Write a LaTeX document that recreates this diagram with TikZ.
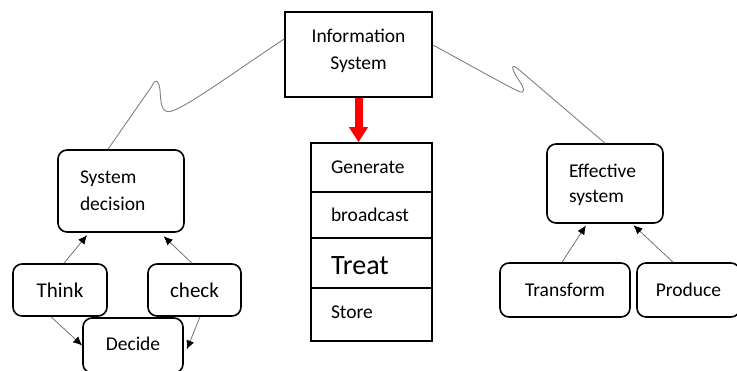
\documentclass[tikz,border=0pt]{standalone}
\usepackage{fontspec}
\setmainfont{Carlito}
\usetikzlibrary{arrows.meta,calc}
\begin{document}
\begin{tikzpicture}[x=1pt,y=-1pt,
  box/.style={draw=black,line width=1.6pt,minimum height=#1,inner sep=0pt,font=\fontsize{19.5}{27}\selectfont},
  rbox/.style={box=#1,rounded corners=9pt},
  cell/.style={draw=black,line width=1.6pt,minimum width=121pt,minimum height=#1,text width=81pt,align=left,inner xsep=20pt,inner ysep=0pt,font=\fontsize{19.5}{27}\selectfont},
  link/.style={draw=gray,line width=0.9pt},
  upar/.style={draw=gray!90!black,line width=0.8pt,-{Latex[length=9pt,width=8pt,color=black]}}]
\useasboundingbox (0,0) rectangle (737,370);
% top
\node[box=85pt,minimum width=147pt] (info) at (358.5,54.5)
  {\raisebox{4pt}[\height][\depth]{\begin{tabular}{@{}c@{}}Information\\System\end{tabular}}};
% stack
\node[cell=49pt] (gen) at (371.5,167.5) {Generate};
\node[cell=46pt] (bro) at (371.5,215) {broadcast};
\node[cell=50pt,font=\fontsize{28}{30}\selectfont] (tre) at (371.5,263) {\raisebox{-3pt}[\height][\depth]{Treat}};
\node[cell=53pt] (sto) at (371.5,314.5) {\raisebox{2pt}[\height][\depth]{Store}};
\draw[red,line width=8pt,-{Triangle[width=18pt,length=15pt]}] (info.south) -- (info.south |- gen.north);
% left group
\node[rbox=82pt,text width=82pt,align=left,inner xsep=22pt] (sd) at (121,191) {System\\decision};
\node[rbox=52pt,minimum width=94pt,font=\fontsize{21}{27}\selectfont] (think) at (60,290) {Think};
\node[rbox=52pt,minimum width=93pt,font=\fontsize{21}{27}\selectfont] (check) at (194.5,290) {check};
\node[rbox=55pt,minimum width=100pt] (decide) at (133,345.5) {\raisebox{2pt}[\height][\depth]{Decide}};
\draw[upar,shorten >=3pt] ([xshift=4pt]think.north) -- ([xshift=-32pt]sd.south);
\draw[upar,shorten >=5pt] ([xshift=-2.5pt]check.north) -- ([xshift=39pt]sd.south);
\draw[upar] ([xshift=-9pt]think.south) -- (decide.west);
\draw[upar] ([xshift=5.5pt]check.south) -- ([xshift=3pt,yshift=-4pt]decide.east);
% right group
\node[rbox=79pt,text width=72pt,align=left,inner xsep=22pt] (es) at (605,183.5) {\raisebox{-2pt}[\height][\depth]{Effective}\\system};
\node[rbox=54pt,minimum width=130pt] (trans) at (565,290) {Transform};
\node[rbox=54pt,minimum width=103pt] (prod) at (688.5,290) {Produce};
\draw[upar,shorten >=2pt] ([xshift=-3pt]trans.north) -- ([xshift=-18pt]es.south);
\draw[upar,shorten >=2pt] ([xshift=-15.5pt]prod.north) -- ([xshift=27pt]es.south);
% curvy links
\draw[link] ([yshift=15.5pt]info.west) .. controls (240,68) and (190,105) .. (172,111)
  .. controls (160,115) and (161,100) .. (160,90)
  .. controls (159,80) and (155,78) .. (152,86) -- ([xshift=-13pt]sd.north);
\draw[link] ([yshift=9.5pt]info.east) .. controls (470,65) and (505,85) .. (518,91)
  .. controls (526,95) and (524,88) .. (520,82)
  .. controls (515,75) and (508,62) .. (517,68) -- (es.north);
\end{tikzpicture}
\end{document}
